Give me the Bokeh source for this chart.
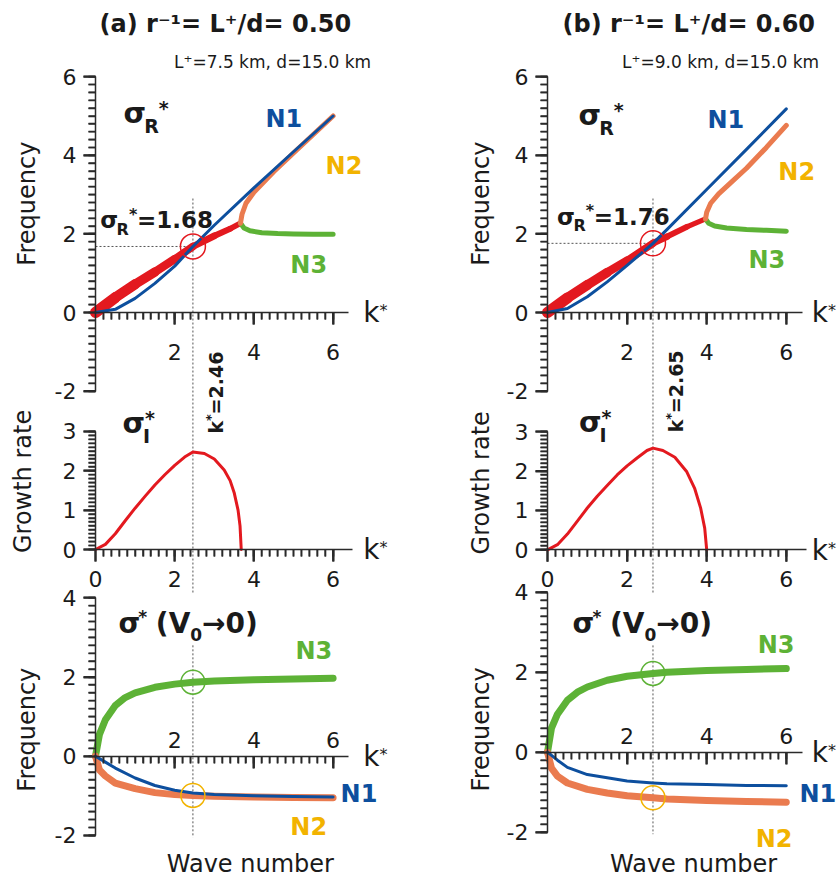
import numpy as np
from bokeh.plotting import figure
from bokeh.models import Range1d, LinearAxis, FixedTicker
from bokeh.layouts import row
from bokeh.core.properties import value
from bokeh.embed import file_html
from bokeh.resources import INLINE

FONT = "DejaVu Sans"

# ---------------- data : (a) r^-1 = L+/d = 0.50 ----------------
A_TITLE = "(a) r\u207b\u00b9= L\u207a/d= 0.50"
A_SUB = "L\u207a=7.5 km, d=15.0 km"
A_KSTAR = 2.46
A_SIGR = 1.68
A_N1_K = [0, 0.5, 1, 1.5, 2, 2.46, 3, 4, 5, 6]
A_N1 = [0, 0.08, 0.36, 0.74, 1.18, 1.68, 2.22, 3.17, 4.09, 5.0]
A_RED_K = [0, 0.5, 1, 1.5, 2, 2.46, 3, 3.4, 3.66]
A_RED = [0, 0.38, 0.72, 1.03, 1.36, 1.68, 1.95, 2.13, 2.27]
A_N2_K = [3.66, 3.7, 3.8, 4, 4.5, 5, 5.5, 6]
A_N2 = [2.27, 2.5, 2.78, 3.06, 3.58, 4.06, 4.53, 5.0]
A_N3_K = [3.66, 3.75, 3.9, 4.2, 4.6, 5, 5.5, 6]
A_N3 = [2.27, 2.15, 2.08, 2.03, 2.01, 2.0, 1.99, 1.99]
A_SI_K = [0, 0.25, 0.5, 0.75, 1, 1.25, 1.5, 1.75, 2, 2.25, 2.46, 2.75, 3, 3.25, 3.4, 3.5, 3.6, 3.65, 3.68]
A_SI = [0, 0.13, 0.4, 0.73, 1.05, 1.35, 1.64, 1.9, 2.14, 2.35, 2.48, 2.44, 2.3, 2.02, 1.75, 1.45, 1.0, 0.6, 0.0]
A_V0_N3_K = [0, 0.1, 0.25, 0.5, 0.75, 1, 1.5, 2, 2.46, 3, 4, 5, 6]
A_V0_N3 = [0, 0.55, 0.92, 1.28, 1.48, 1.6, 1.74, 1.82, 1.87, 1.9, 1.93, 1.95, 1.97]
A_V0_N1_K = [0, 0.25, 0.5, 1, 1.5, 2, 2.46, 3, 4, 5, 6]
A_V0_N1 = [0, -0.15, -0.3, -0.55, -0.74, -0.86, -0.93, -0.97, -1.0, -1.02, -1.03]
A_V0_N2_K = [0, 0.1, 0.25, 0.5, 1, 1.5, 2, 2.46, 3, 4, 5, 6]
A_V0_N2 = [0, -0.35, -0.5, -0.68, -0.82, -0.92, -0.97, -0.99, -1.01, -1.03, -1.04, -1.05]

# ---------------- data : (b) r^-1 = L+/d = 0.60 ----------------
B_TITLE = "(b) r\u207b\u00b9= L\u207a/d= 0.60"
B_SUB = "L\u207a=9.0 km, d=15.0 km"
B_KSTAR = 2.65
B_SIGR = 1.76
B_N1_K = [0, 0.5, 1, 1.5, 2, 2.65, 3, 4, 5, 6]
B_N1 = [0, 0.1, 0.4, 0.78, 1.2, 1.76, 2.11, 3.13, 4.15, 5.18]
B_RED_K = [0, 0.5, 1, 1.5, 2, 2.65, 3, 3.5, 3.97]
B_RED = [0, 0.37, 0.7, 1.02, 1.32, 1.76, 1.93, 2.18, 2.38]
B_N2_K = [3.97, 4.0, 4.1, 4.3, 4.6, 5, 5.5, 6]
B_N2 = [2.38, 2.55, 2.78, 3.02, 3.3, 3.67, 4.2, 4.76]
B_N3_K = [3.97, 4.05, 4.2, 4.5, 5, 5.5, 6]
B_N3 = [2.38, 2.27, 2.2, 2.15, 2.11, 2.09, 2.07]
B_SI_K = [0, 0.25, 0.5, 0.75, 1, 1.25, 1.5, 1.75, 2, 2.25, 2.5, 2.65, 2.9, 3.2, 3.5, 3.7, 3.85, 3.95, 4.0]
B_SI = [0, 0.13, 0.4, 0.73, 1.06, 1.36, 1.63, 1.9, 2.13, 2.33, 2.52, 2.58, 2.52, 2.35, 1.98, 1.55, 1.05, 0.55, 0.0]
B_V0_N3_K = [0, 0.1, 0.25, 0.5, 0.75, 1, 1.5, 2, 2.65, 3, 4, 5, 6]
B_V0_N3 = [0, 0.6, 0.95, 1.3, 1.5, 1.63, 1.8, 1.9, 1.97, 2.0, 2.04, 2.07, 2.09]
B_V0_N1_K = [0, 0.25, 0.5, 1, 1.5, 2, 2.65, 3, 4, 5, 6]
B_V0_N1 = [0, -0.2, -0.38, -0.56, -0.64, -0.72, -0.77, -0.79, -0.81, -0.83, -0.84]
B_V0_N2_K = [0, 0.1, 0.25, 0.5, 1, 1.5, 2, 2.65, 3, 4, 5, 6]
B_V0_N2 = [0, -0.4, -0.6, -0.77, -0.93, -1.02, -1.09, -1.14, -1.17, -1.21, -1.23, -1.25]

# tick labels
TOP_Y_TICKS = [-2, 0, 2, 4, 6]
TOP_X_TICKS = [2, 4, 6]
MID_Y_TICKS = [0, 1, 2, 3]
MID_X_TICKS = [0, 2, 4, 6]
BOT_Y_TICKS = [-2, 0, 2, 4]
BOT_X_TICKS = [2, 4, 6]

# ---------------- style ----------------
BLUE = "#0d4f9e"
RED = "#e3191f"
ORANGE = "#ea7b4f"
GREEN = "#5db236"
YELLOW = "#f2b300"
DASH = "#555555"
INK = "#1a1a1a"
AXC = "#2a2a2a"

W, H = 419, 879
BASE = 0.345  # baseline correction (fraction of font size)
MAJ, MIN = 12, 7  # tick lengths, px

WREG = {' ': .318, '.': .318, '=': .838, '*': .5, '(': .39, ')': .39, 'k': .579,
        'R': .695, 'I': .295, 'V': .684, '\u03c3': .634, '\u2192': .838}
WBOLD = {' ': .348, '.': .381, '=': .838, '*': .5, '(': .456, ')': .456, 'k': .665,
         'R': .77, 'I': .372, 'V': .774, '\u03c3': .71, '\u2192': .838}


def tw(s, size, bold):
    tbl = WBOLD if bold else WREG
    dig = .696 if bold else .636
    return sum(tbl.get(c, dig if c.isdigit() else .6) for c in s) * size


def rich(p, x, y, parts, yr="default", angle=0.0, color=INK):
    adv = 0.0
    for part in parts:
        t, size, rise, bold = part[:4]
        kern = part[4] if len(part) > 4 else 0
        adv += kern
        r = rise + BASE * size
        if angle == 0:
            xo, yo = adv, -r
        else:
            xo, yo = -r, -adv
        p.text(x=[x], y=[y], text=[t], x_offset=xo, y_offset=yo, angle=angle,
               text_font=value(FONT), text_font_size=f"{size}px",
               text_font_style="bold" if bold else "normal",
               text_align="left", text_baseline="alphabetic",
               text_color=color, y_range_name=yr)
        adv += tw(t, size, bold)


def label(p, x, y, t, size, yr="default", bold=False, color=INK, align="left",
          baseline="alphabetic", angle=0.0):
    xo = yo = 0.0
    if baseline == "alphabetic":
        if angle == 0:
            yo = -BASE * size
        else:
            xo = -BASE * size
    p.text(x=[x], y=[y], text=[t], angle=angle, x_offset=xo, y_offset=yo,
           text_font=value(FONT),
           text_font_size=f"{size}px", text_font_style="bold" if bold else "normal",
           text_align=align, text_baseline=baseline, text_color=color, y_range_name=yr)


def tick_list(a, b, step):
    return [round(float(v), 3) for v in np.arange(a, b + step / 2, step)]


def add_axis(p, side, yr, major, minor, bounds, standoff, tin=0, tout=MAJ, mtin=0, mtout=MIN):
    ax = LinearAxis(y_range_name=yr, fixed_location=0, bounds=bounds,
                    ticker=FixedTicker(ticks=major, minor_ticks=minor))
    ax.axis_line_color = AXC
    ax.axis_line_width = 1.5
    ax.major_tick_line_color = AXC
    ax.major_tick_line_width = 2
    ax.minor_tick_line_color = AXC
    ax.minor_tick_line_width = 1.6
    ax.major_tick_in = tin
    ax.major_tick_out = tout
    ax.minor_tick_in = mtin
    ax.minor_tick_out = mtout
    ax.major_label_text_font = FONT
    ax.major_label_text_font_size = "22px"
    ax.major_label_text_color = INK
    ax.major_label_standoff = standoff
    ax.major_label_overrides = {t: str(t) for t in major}
    p.add_layout(ax, side)


def yticks(p, yr, sx, major, minor):
    for vals, ln, lw in ((major, MAJ, 2), (minor, MIN, 1.6)):
        xs = [[-ln / sx, 0.0] for _ in vals]
        ys = [[float(v), float(v)] for v in vals]
        p.multi_line(xs=xs, ys=ys, line_color=AXC, line_width=lw, y_range_name=yr)


def xticks(p, yr, sy, major, minor):
    for vals, ln, lw in ((major, MAJ, 2), (minor, MIN, 1.6)):
        xs = [[float(v), float(v)] for v in vals]
        ys = [[0.0, -ln / sy] for _ in vals]
        p.multi_line(xs=xs, ys=ys, line_color=AXC, line_width=lw, y_range_name=yr)


def segs(p, k, v, widths, color, yr="default"):
    p.segment(x0=k[:-1], y0=v[:-1], x1=k[1:], y1=v[1:], line_width=widths,
              line_color=color, line_cap="round", y_range_name=yr)


def column_fig(d, lay):
    x0, sx = lay["x"]
    p = figure(width=W, height=H, x_axis_type=None, y_axis_type=None,
               toolbar_location=None, output_backend="svg", min_border=0,
               outline_line_color=None,
               x_range=Range1d(-x0 / sx, (W - x0) / sx))
    p.title.visible = False
    yt, st = lay["top"]
    ym, sm = lay["mid"]
    yb, sb = lay["bot"]
    p.y_range = Range1d(-(H - yt) / st, yt / st)
    p.extra_y_ranges = {"mid": Range1d(-(H - ym) / sm, ym / sm),
                        "bot": Range1d(-(H - yb) / sb, yb / sb)}

    top_y_minor = tick_list(-2, 6, 0.2)
    x_minor = tick_list(0.2, 6, 0.2)
    mid_y_minor = tick_list(0, 3, 0.1)
    bot_y_minor = tick_list(-2, 4, 0.2)

    # ticks as marks, from the same tick lists (drawn under the axes)
    yticks(p, "default", sx, TOP_Y_TICKS, top_y_minor)
    xticks(p, "default", st, TOP_X_TICKS, x_minor)
    yticks(p, "mid", sx, MID_Y_TICKS, mid_y_minor)
    xticks(p, "mid", sm, MID_X_TICKS, x_minor)
    yticks(p, "bot", sx, BOT_Y_TICKS, bot_y_minor)
    xticks(p, "bot", sb, BOT_X_TICKS, x_minor)

    # axes
    add_axis(p, "left", "default", TOP_Y_TICKS, top_y_minor, (-2, 6), 7)
    add_axis(p, "below", "default", TOP_X_TICKS, x_minor, (0, 6.4), 19)
    add_axis(p, "left", "mid", MID_Y_TICKS, mid_y_minor, (0, 3), 7)
    add_axis(p, "below", "mid", MID_X_TICKS, x_minor, (0, 6.5), 9)
    add_axis(p, "left", "bot", BOT_Y_TICKS, bot_y_minor, (-2, 4), 7)
    add_axis(p, "above", "bot", BOT_X_TICKS, x_minor, (0, 6.4), 8, tin=MAJ, tout=0, mtin=MIN, mtout=0)

    ks, sr = d["kstar"], d["sigr"]
    # guide lines
    p.segment(x0=[0], y0=[sr], x1=[ks], y1=[sr], line_color=DASH, line_width=1, line_dash="2 2")
    p.segment(x0=[ks], y0=[2.9], x1=[ks], y1=[lay["vcut"]], line_color=DASH, line_width=1, line_dash="2 2")
    p.segment(x0=[ks], y0=[lay["vbot"]], x1=[ks], y1=[-2.05], line_color=DASH, line_width=1,
              line_dash="2 2", y_range_name="bot")

    # ---- top panel: sigma_R
    rk = np.array(d["red_k"], dtype=float)
    rw = list(11.5 - 1.7 * (rk[:-1] + rk[1:]) / 2)
    segs(p, d["red_k"], d["red"], rw, RED)
    p.line(d["n3_k"], d["n3"], line_color=GREEN, line_width=5, line_cap="round", line_join="round")
    p.line(d["n2_k"], d["n2"], line_color=ORANGE, line_width=5, line_cap="round", line_join="round")
    p.line(d["n1_k"], d["n1"], line_color=BLUE, line_width=3, line_cap="round", line_join="round")
    p.scatter([ks], [sr], marker="circle", size=25, fill_color=None, line_color=RED, line_width=1.5)

    # ---- middle panel: sigma_I
    p.line(d["si_k"], d["si"], line_color=RED, line_width=3, line_cap="round", line_join="round",
           y_range_name="mid")

    # ---- bottom panel: V0 -> 0
    p.line(d["v3_k"], d["v3"], line_color=GREEN, line_width=7, line_cap="round", line_join="round",
           y_range_name="bot")
    p.line(d["v2_k"], d["v2"], line_color=ORANGE, line_width=7, line_cap="round", line_join="round",
           y_range_name="bot")
    p.line(d["v1_k"], d["v1"], line_color=BLUE, line_width=3, line_cap="round", line_join="round",
           y_range_name="bot")
    g_at = float(np.interp(ks, d["v3_k"], d["v3"]))
    o_at = float(np.interp(ks, d["v2_k"], d["v2"]))
    p.scatter([ks], [g_at], marker="circle", size=24, fill_color=None, line_color=GREEN,
              line_width=1.5, y_range_name="bot")
    p.scatter([ks], [o_at], marker="circle", size=24, fill_color=None, line_color=YELLOW,
              line_width=1.5, y_range_name="bot")

    # ---- texts
    T = lay["txt"]
    label(p, *T["title"], d["title"], 24, bold=True, align="center")
    label(p, *T["sub"], d["sub"], 17, align="center")
    rich(p, *T["sR"], [("\u03c3", 29, 0, True), ("R", 19, -9, True), ("*", 19, 9, True)])
    label(p, *T["N1"], "N1", 24, bold=True, color=BLUE)
    label(p, *T["N2"], "N2", 24, bold=True, color=YELLOW)
    label(p, *T["N3"], "N3", 24, bold=True, color=GREEN)
    rich(p, *T["sRv"], [("\u03c3", 23, 0, True), ("R", 16, -7, True), ("*", 16, 8, True),
                        (f"={sr:.2f}", 23, 0, True)])
    rich(p, *T["kv"], [("k", 19, 0, True), ("*", 13, 7, True), (f"={ks:.2f}", 19, 0, True)],
         angle=np.pi / 2)
    label(p, *T["fq1"], "Frequency", 24, align="center", baseline="middle", angle=np.pi / 2)
    for yr in ("default", "mid", "bot"):
        rich(p, T["kx"], 0, [("k", 28, -10, False), ("*", 16, -4, False)], yr=yr)
    rich(p, *T["sI"], [("\u03c3", 29, 0, True), ("I", 19, -9, True), ("*", 19, 9, True, -5)], yr="mid")
    label(p, *T["gr"], "Growth rate", 24, yr="mid", align="center", baseline="middle", angle=np.pi / 2)
    rich(p, *T["sV"], [("\u03c3", 28, 0, True), ("*", 17, 11, True), ("(V", 28, 0, True, 9),
                       ("0", 17, -7, True), ("\u2192", 28, 0, True), ("0)", 28, 0, True)], yr="bot")
    label(p, *T["fq3"], "Frequency", 24, yr="bot", align="center", baseline="middle", angle=np.pi / 2)
    label(p, *T["bN3"], "N3", 24, yr="bot", bold=True, color=GREEN)
    label(p, *T["bN1"], "N1", 24, yr="bot", bold=True, color=BLUE)
    label(p, *T["bN2"], "N2", 24, yr="bot", bold=True, color=YELLOW)
    label(p, *T["wave"], "Wave number", 24, yr="bot", align="center")
    return p


DA = dict(title=A_TITLE, sub=A_SUB, kstar=A_KSTAR, sigr=A_SIGR,
          n1_k=A_N1_K, n1=A_N1, red_k=A_RED_K, red=A_RED, n2_k=A_N2_K, n2=A_N2,
          n3_k=A_N3_K, n3=A_N3, si_k=A_SI_K, si=A_SI,
          v3_k=A_V0_N3_K, v3=A_V0_N3, v1_k=A_V0_N1_K, v1=A_V0_N1, v2_k=A_V0_N2_K, v2=A_V0_N2)
DB = dict(title=B_TITLE, sub=B_SUB, kstar=B_KSTAR, sigr=B_SIGR,
          n1_k=B_N1_K, n1=B_N1, red_k=B_RED_K, red=B_RED, n2_k=B_N2_K, n2=B_N2,
          n3_k=B_N3_K, n3=B_N3, si_k=B_SI_K, si=B_SI,
          v3_k=B_V0_N3_K, v3=B_V0_N3, v1_k=B_V0_N1_K, v1=B_V0_N1, v2_k=B_V0_N2_K, v2=B_V0_N2)

LA = dict(x=(95, 39.6), top=(312, 39.3), mid=(549, 39.35), bot=(755.7, 39.6),
          vcut=-7.15, vbot=2.8,
          txt=dict(title=(3.28, 7.12), sub=(4.47, 6.23), sR=(0.71, 4.81), N1=(4.29, 4.71),
                   N2=(5.81, 3.51), N3=(4.92, 0.99), sRv=(0.12, 2.14), kv=(3.2, -3.08),
                   fq1=(-1.74, 2.77), sI=(0.68, 2.95), gr=(-1.82, 1.73), sV=(0.58, 3.1),
                   fq3=(-1.74, 0.67), bN3=(5.05, 2.44), bN1=(6.19, -1.17), bN2=(4.92, -2.0),
                   wave=(3.91, -2.94), kx=6.76))
LB = dict(x=(128, 39.8), top=(312, 39.3), mid=(549.3, 39.4), bot=(751.7, 40.0),
          vcut=-7.15, vbot=2.67,
          txt=dict(title=(3.55, 7.12), sub=(4.35, 6.23), sR=(0.78, 4.76), N1=(4.02, 4.68),
                   N2=(5.8, 3.36), N3=(5.05, 1.12), sRv=(0.24, 2.24), kv=(3.39, -3.05),
                   fq1=(-1.66, 2.77), sI=(0.79, 2.98), gr=(-1.66, 1.70), sV=(0.63, 2.97),
                   fq3=(-1.66, 0.57), bN3=(5.28, 2.47), bN1=(6.33, -1.26), bN2=(5.23, -2.38),
                   wave=(3.67, -3.01), kx=6.64))

pa = column_fig(DA, LA)
pb = column_fig(DB, LB)
layout = row(pa, pb)

with open("out.html", "w") as f:
    f.write(file_html(layout, INLINE))
